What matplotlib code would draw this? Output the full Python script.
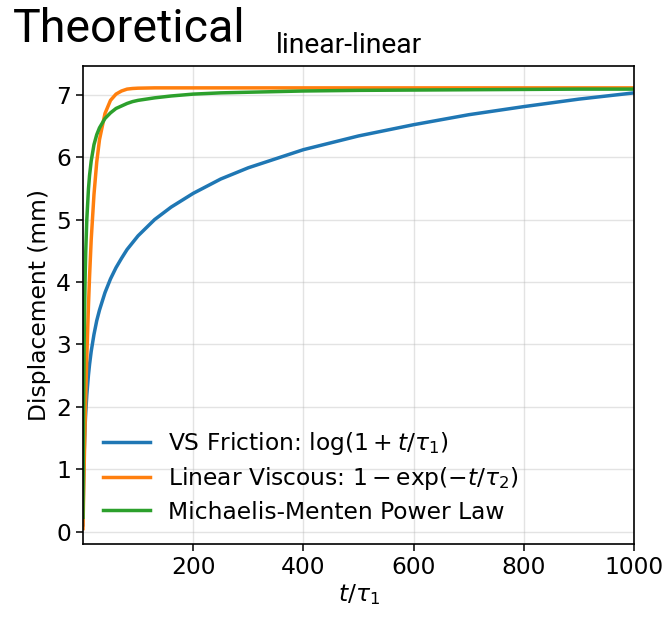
import matplotlib
matplotlib.use("Agg")
import matplotlib.pyplot as plt

# values
t_tau1 = [0.1, 0.3, 1, 2, 3, 4, 5, 7, 10, 12, 15, 20, 25, 30, 40, 50, 60, 70,
          80, 90, 100, 130, 160, 200, 250, 300, 400, 500, 600, 700, 800, 900,
          1000]

vs_friction = [0.11, 0.29, 0.76, 1.18, 1.48, 1.71, 1.90, 2.19, 2.51, 2.68,
               2.89, 3.16, 3.38, 3.55, 3.83, 4.05, 4.23, 4.38, 4.52, 4.63,
               4.74, 5.00, 5.20, 5.42, 5.65, 5.83, 6.12, 6.34, 6.52, 6.68,
               6.81, 6.93, 7.03]

linear_viscous = [0.05, 0.15, 0.49, 0.95, 1.37, 1.77, 2.14, 2.80, 3.62, 4.09,
                  4.68, 5.40, 5.92, 6.28, 6.70, 6.91, 7.01, 7.06, 7.09, 7.10,
                  7.105, 7.11, 7.11, 7.11, 7.11, 7.11, 7.11, 7.11, 7.11, 7.11,
                  7.11, 7.11, 7.11]

michaelis_menten = [0.23, 0.66, 1.80, 2.87, 3.58, 4.09, 4.47, 5.00, 5.49, 5.71,
                    5.94, 6.20, 6.36, 6.47, 6.62, 6.71, 6.78, 6.82, 6.86, 6.89,
                    6.91, 6.95, 6.98, 7.01, 7.03, 7.04, 7.06, 7.07, 7.075, 7.08,
                    7.085, 7.09, 7.09]

labels = [
    r"VS Friction: $\log(1 + t/\tau_1)$",
    r"Linear Viscous: $1 - \exp(-t/\tau_2)$",
    "Michaelis-Menten Power Law",
]

fs = 16.8

fig = plt.figure(figsize=(6.64, 6.17), dpi=100)
ax = fig.add_axes([0.125, 0.118, 0.830, 0.775])

for series, lab in zip([vs_friction, linear_viscous, michaelis_menten], labels):
    ax.plot(t_tau1, series, lw=2.5, label=lab)

ax.set_xlim(0.1, 1000)
ax.set_ylim(-0.2, 7.46)
ax.set_xticks([200, 400, 600, 800, 1000])
ax.set_yticks(range(8))
ax.grid(True, color="#b0b0b0", alpha=0.35, lw=1.0)
ax.tick_params(labelsize=fs, length=5, width=1.1)
for sp in ax.spines.values():
    sp.set_linewidth(1.2)

ax.set_xlabel(r"$t/\tau_1$", fontsize=fs, labelpad=2)
ax.set_ylabel("Displacement (mm)", fontsize=fs, labelpad=4)

ax.legend(loc="lower left", frameon=False, fontsize=fs, handlelength=2.0,
          labelspacing=0.35, borderaxespad=0, bbox_to_anchor=(0.0194, 0.0236))

fig.text(348.5 / 664, 1 - 53.3 / 617, "linear-linear", fontsize=20.3,
         family="Roboto", ha="center", va="baseline")
fig.text(13 / 664, 1 - 41.7 / 617, "Theoretical", fontsize=33.5,
         family="Roboto", va="baseline")

fig.savefig("out.png", dpi=100)
